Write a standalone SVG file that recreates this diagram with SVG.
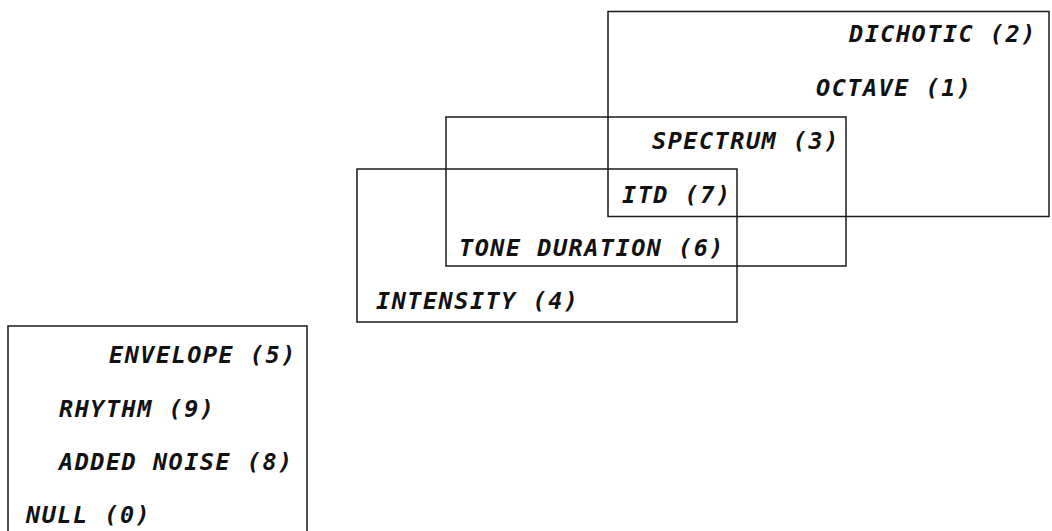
<svg xmlns="http://www.w3.org/2000/svg" width="1052" height="531" viewBox="0 0 1052 531">
<style>
.box{fill:none;stroke:#1a1a1a;stroke-width:1.5}
.t{font-family:"DejaVu Sans Mono","Liberation Mono",monospace;font-size:23.5px;font-style:oblique;font-weight:bold;letter-spacing:1.5px;fill:#111}
</style>
<rect width="1052" height="531" fill="#fff"/>
<g id="connectors"></g>
<g id="dichotic-box">
<rect class="box" x="608" y="11.5" width="441" height="205"/>
<text class="t" x="849" y="42">DICHOTIC (2)</text>
<text class="t" x="816" y="96">OCTAVE (1)</text>
</g>
<g id="spectrum-box">
<rect class="box" x="446" y="117" width="400" height="149"/>
<text class="t" x="652" y="149">SPECTRUM (3)</text>
</g>
<g id="intensity-box">
<rect class="box" x="357" y="169" width="380" height="153"/>
<text class="t" x="622" y="203">ITD (7)</text>
<text class="t" x="459" y="256">TONE DURATION (6)</text>
<text class="t" x="376" y="309">INTENSITY (4)</text>
</g>
<g id="envelope-box">
<rect class="box" x="8" y="326" width="299" height="220"/>
<text class="t" x="109" y="363">ENVELOPE (5)</text>
<text class="t" x="59" y="417">RHYTHM (9)</text>
<text class="t" x="59" y="470">ADDED NOISE (8)</text>
<text class="t" x="26" y="523">NULL (0)</text>
</g>
</svg>
